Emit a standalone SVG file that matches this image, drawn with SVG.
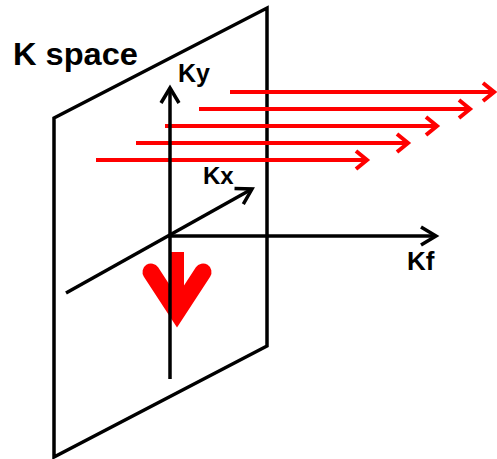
<svg xmlns="http://www.w3.org/2000/svg" width="497" height="459" viewBox="0 0 497 459">
<style>
.blk{stroke:#000;stroke-width:3.5;fill:none}
.red{stroke:#ff0000;stroke-width:4;fill:none}
.lbl{font-family:"Liberation Sans",Arial,sans-serif;font-weight:bold;fill:#000}
</style>
<defs>
<marker id="ah" markerUnits="userSpaceOnUse" markerWidth="30" markerHeight="30" viewBox="-20 -15 30 30" refX="0" refY="0" orient="auto">
<path d="M-15,-9 L0,0 L-15,9" fill="none" stroke="#000" stroke-width="3.5"/>
</marker>
<marker id="rh" markerUnits="userSpaceOnUse" markerWidth="30" markerHeight="30" viewBox="-20 -15 30 30" refX="0" refY="0" orient="auto">
<path d="M-11,-9 L0,0 L-11,9" fill="none" stroke="#ff0000" stroke-width="4"/>
</marker>
</defs>
<rect width="497" height="459" fill="#fff"/>
<g id="plane">
<polygon class="blk" points="54,118 267,8 267,346 54,457" stroke-width="4"/>
</g>
<g id="title"><text class="lbl" x="13" y="65" font-size="32" textLength="125" lengthAdjust="spacingAndGlyphs">K space</text></g>
<g id="connectors">
<line id="kx-axis" class="blk" x1="66" y1="293" x2="252" y2="189" marker-end="url(#ah)"/>
<line id="kf-axis" class="blk" x1="168" y1="236" x2="436" y2="236" marker-end="url(#ah)"/>
<line class="red" x1="230" y1="92" x2="494" y2="92" marker-end="url(#rh)"/>
<line class="red" x1="199" y1="109" x2="470" y2="109" marker-end="url(#rh)"/>
<line class="red" x1="165" y1="126" x2="437" y2="126" marker-end="url(#rh)"/>
<line class="red" x1="136" y1="143" x2="408" y2="143" marker-end="url(#rh)"/>
<line class="red" x1="96" y1="160" x2="367" y2="160" marker-end="url(#rh)"/>
</g>
<g id="big-arrow">
<rect x="170" y="252" width="14" height="60" fill="#ff0000"/>
<path d="M151,272 L177,312 L203,272" fill="none" stroke="#ff0000" stroke-width="17" stroke-linecap="round" stroke-linejoin="miter" stroke-miterlimit="10"/>
</g>
<g id="ky-axis-g">
<line id="ky-axis" class="blk" x1="170" y1="379" x2="170" y2="88" marker-end="url(#ah)"/>
</g>
<g id="labels">
<text class="lbl" x="178" y="82" font-size="25">Ky</text>
<text class="lbl" x="203" y="184" font-size="24">Kx</text>
<text class="lbl" x="407" y="270" font-size="26">Kf</text>
</g>
</svg>
